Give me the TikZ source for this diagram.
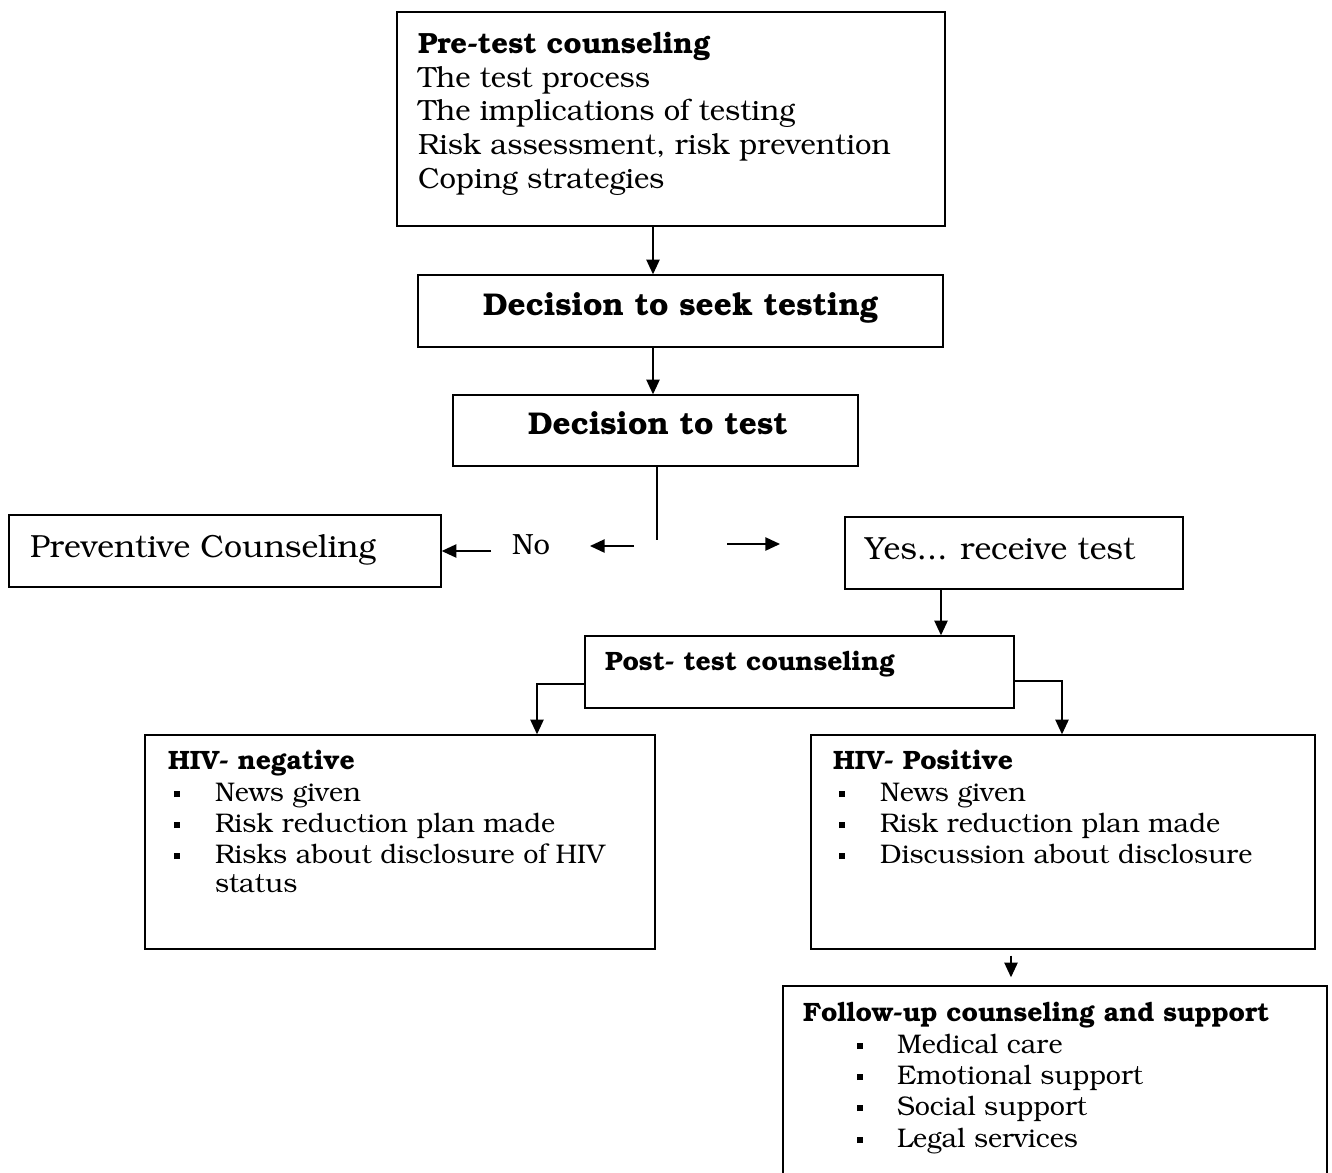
\documentclass[tikz,border=0pt]{standalone}
\usepackage[T1]{fontenc}
\usepackage{bookman}
\usetikzlibrary{arrows.meta,fit}
\newcommand\fsBody{\fontsize{21.9}{26}\selectfont}
\newcommand\fsDec{\fontsize{23.6}{28}\selectfont}
\newcommand\fsBig{\fontsize{24}{28}\selectfont}
\newcommand\fsList{\fontsize{20.2}{24}\selectfont}
\newcommand\fsHead{\fontsize{19.9}{24}\selectfont}
\newcommand\bx[5]{\path (#2,#3) coordinate (#1-a) (#4,#5) coordinate (#1-b);
  \node[boxst, fit=(#1-a)(#1-b)] (#1) {};}
\newcommand\blt{\makebox[30.75pt][l]{\raisebox{3pt}{\rule{4.5pt}{4.5pt}}}}
\newcommand\bltb{\makebox[30pt][l]{\raisebox{3pt}{\rule{4.5pt}{4.5pt}}}}
\tikzset{
  boxst/.style={draw, line width=1.1pt, inner sep=0pt},
  txt/.style={anchor=base west, inner sep=0pt, outer sep=0pt},
  arr/.style={line width=1.1pt, -{Triangle[length=11pt,width=10pt]}},
  ln/.style={line width=1.1pt},
}
\begin{document}
\begin{tikzpicture}[x=0.75pt,y=-0.75pt]
\useasboundingbox (0,0) rectangle (1332,1172);
\clip (0,0) rectangle (1332,1172);
\fill[white] (0,0) rectangle (1332,1172);
% boxes
\bx{pre}{397}{12}{945}{226}
\bx{seek}{418}{275}{943}{347}
\bx{dtest}{453}{395}{858}{466}
\bx{prev}{9}{515}{441}{587}
\bx{yes}{845}{517}{1183}{589}
\bx{post}{585}{636}{1014}{708}
\bx{neg}{145}{735}{655}{949}
\bx{pos}{811}{735}{1315}{949}
\bx{fol}{783}{986}{1327}{1200}
% texts
\node[txt] (t1) at (418,53) {\fsBody\bfseries Pre-test counseling};
\node[txt] (t2) at (418,87) {\fsBody The test process};
\node[txt] (t3) at (418,120) {\fsBody The implications of testing};
\node[txt] (t4) at (418,154) {\fsBody Risk assessment, risk prevention};
\node[txt] (t5) at (418,188) {\fsBody Coping strategies};
\node[txt] (t6) at (483,315) {\fsDec\bfseries Decision to seek testing};
\node[txt] (t7) at (528,434) {\fsDec\bfseries Decision to test};
\node[txt] (t8) at (30,557) {\fsBig Preventive Counseling};
\node[txt] (t9) at (865,559) {\fsBig Yes... receive test};
\node[txt] (no) at (512,554) {\fsBody No};
\node[txt] (t10) at (605,670) {\fsHead\bfseries Post- test counseling};
% HIV negative
\node[txt] (n0) at (168,769) {\fsHead\bfseries HIV- negative};
\node[txt] (n1) at (174,801) {\fsList\blt News given};
\node[txt] (n2) at (174,832) {\fsList\blt Risk reduction plan made};
\node[txt] (n3) at (174,863) {\fsList\blt Risks about disclosure of HIV};
\node[txt] (n4) at (215,892) {\fsList status};
% HIV positive
\node[txt] (p0) at (833,769) {\fsHead\bfseries HIV- Positive};
\node[txt] (p1) at (839,801) {\fsList\blt News given};
\node[txt] (p2) at (839,832) {\fsList\blt Risk reduction plan made};
\node[txt] (p3) at (839,863) {\fsList\blt Discussion about disclosure};
% follow-up
\node[txt] (f0) at (803,1021) {\fsHead\bfseries Follow-up counseling and support};
\node[txt] (f1) at (857,1053) {\fsList\bltb Medical care};
\node[txt] (f2) at (857,1084) {\fsList\bltb Emotional support};
\node[txt] (f3) at (857,1115) {\fsList\bltb Social support};
\node[txt] (f4) at (857,1147) {\fsList\bltb Legal services};
% connector coordinates
\coordinate (xa) at (653,0);
\coordinate (xb) at (657,0);
\coordinate (xc) at (941,0);
\coordinate (xd) at (1011,0);
\coordinate (yd) at (0,540);
\coordinate (nl) at (634,546);
\coordinate (nr) at (590,546);
\coordinate (yl) at (727,544);
\coordinate (yr) at (780,544);
\coordinate (pl) at (537,684);
\coordinate (pr) at (1062,681);
\coordinate (na) at (491,551);
% connectors
\draw[arr] (pre.south -| xa) -- (seek.north -| xa);
\draw[arr] (seek.south -| xa) -- (dtest.north -| xa);
\draw[ln] (dtest.south -| xb) -- (yd -| xb);
\draw[arr] (nl) -- (nr);
\draw[arr] (yl) -- (yr);
\draw[arr] (na) -- (prev.east |- na);
\draw[arr] (yes.south -| xc) -- (post.north -| xc);
\draw[arr] (post.west |- pl) -- (pl) -- (neg.north -| pl);
\draw[arr] (post.east |- pr) -- (pr) -- (pos.north -| pr);
\draw[arr] ([yshift=-4.5pt]pos.south -| xd) -- ([yshift=6pt]fol.north -| xd);
\end{tikzpicture}
\end{document}
